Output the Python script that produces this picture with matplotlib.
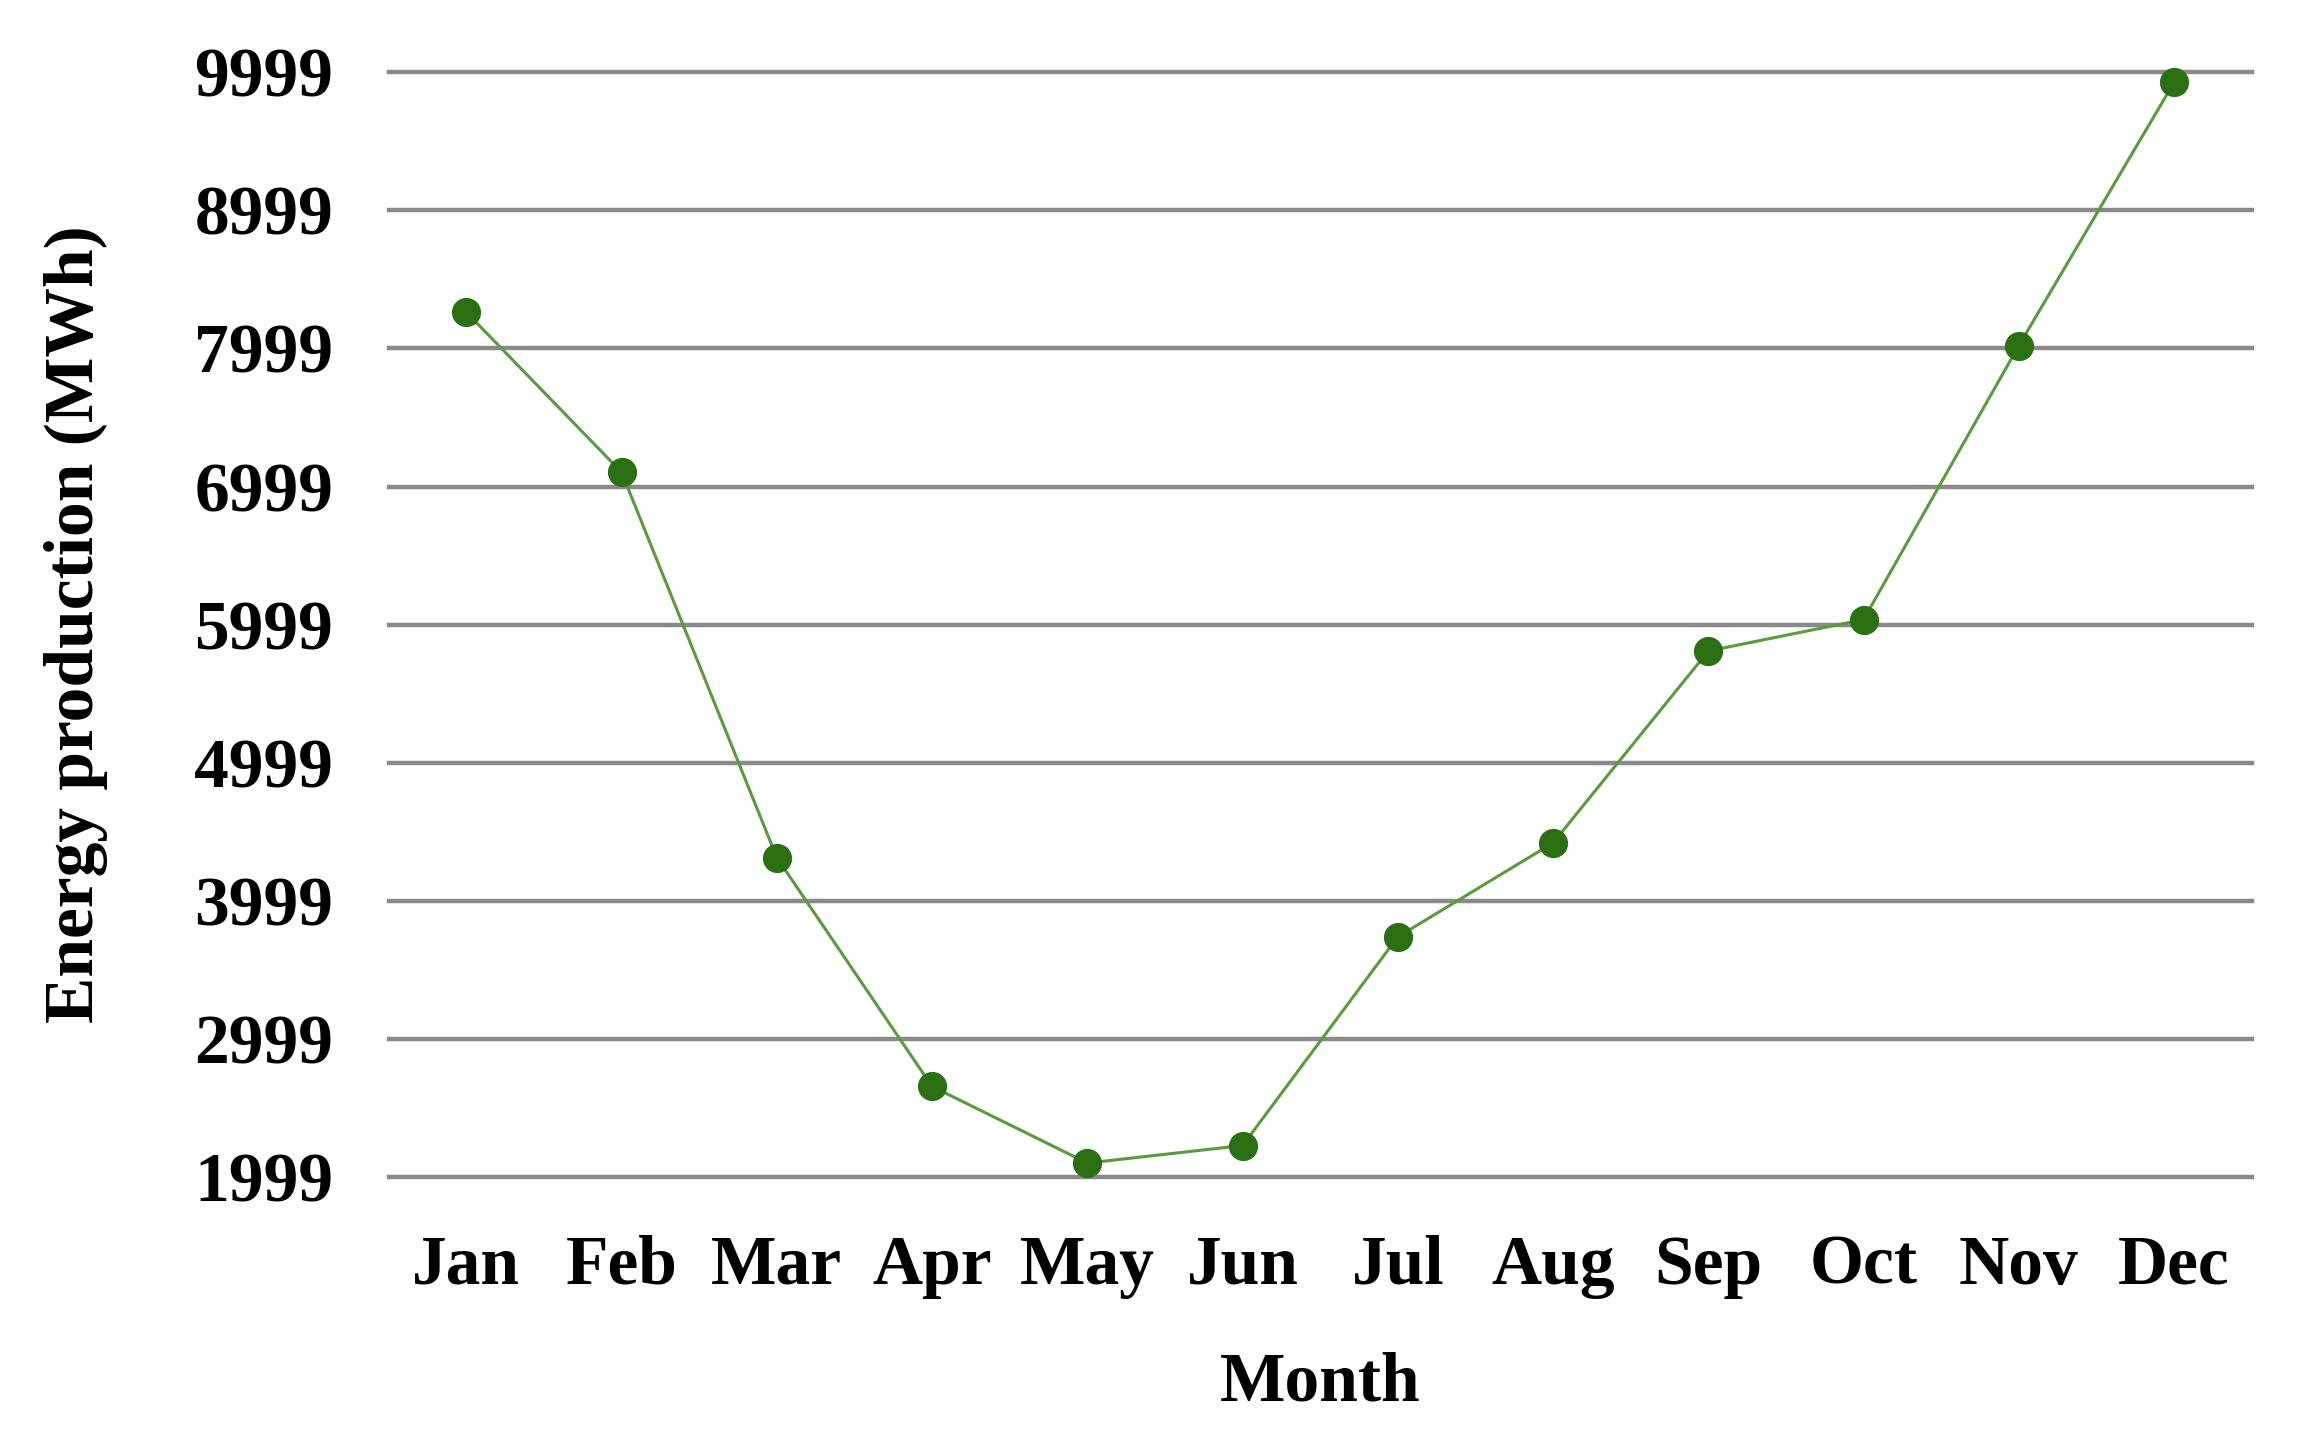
import matplotlib
matplotlib.use("Agg")
import matplotlib.pyplot as plt

plt.rcParams['font.family'] = ['Liberation Serif', 'DejaVu Serif']
plt.rcParams['font.weight'] = 'bold'

# 数据
months = ['Jan', 'Feb', 'Mar', 'Apr', 'May', 'Jun',
          'Jul', 'Aug', 'Sep', 'Oct', 'Nov', 'Dec']
energy = [8262, 7102, 4310, 2652, 2097, 2224,
          3736, 4417, 5807, 6035, 8020, 9927]
y_ticks = [1999, 2999, 3999, 4999, 5999, 6999, 7999, 8999, 9999]

fig = plt.figure(figsize=(23, 14.49), dpi=100)
ax = fig.add_axes([0.169, 0.188, 0.810, 0.762])

x = range(len(months))
ax.plot(x, energy, color='#5c9a40', linewidth=2.2, marker='o',
        markersize=20, markerfacecolor='#2a7012', markeredgecolor='#2a7012',
        zorder=3, clip_on=False)

ax.set_xlim(-0.5, len(months) - 0.5)
ax.set_ylim(1999, 9999)
ax.set_yticks(y_ticks)
ax.set_yticklabels([str(v) for v in y_ticks])
ax.set_xticks(list(x))
ax.set_xticklabels(months)

# 网格线
ax.yaxis.grid(True, color='#8a8a8a', linewidth=3.2)
for gl in ax.get_ygridlines():
    gl.set_clip_on(False)
ax.set_axisbelow(True)
for s in ax.spines.values():
    s.set_visible(False)
ax.tick_params(axis='both', length=0, labelsize=50)
ax.tick_params(axis='y', pad=40)
ax.tick_params(axis='x', pad=42)

ax.set_xlabel('Month', fontsize=50, fontweight='bold', labelpad=38)
ax.set_ylabel('Energy production (MWh)', fontsize=50, fontweight='bold', labelpad=62)

fig.savefig('out.png', dpi=100, facecolor='white')
